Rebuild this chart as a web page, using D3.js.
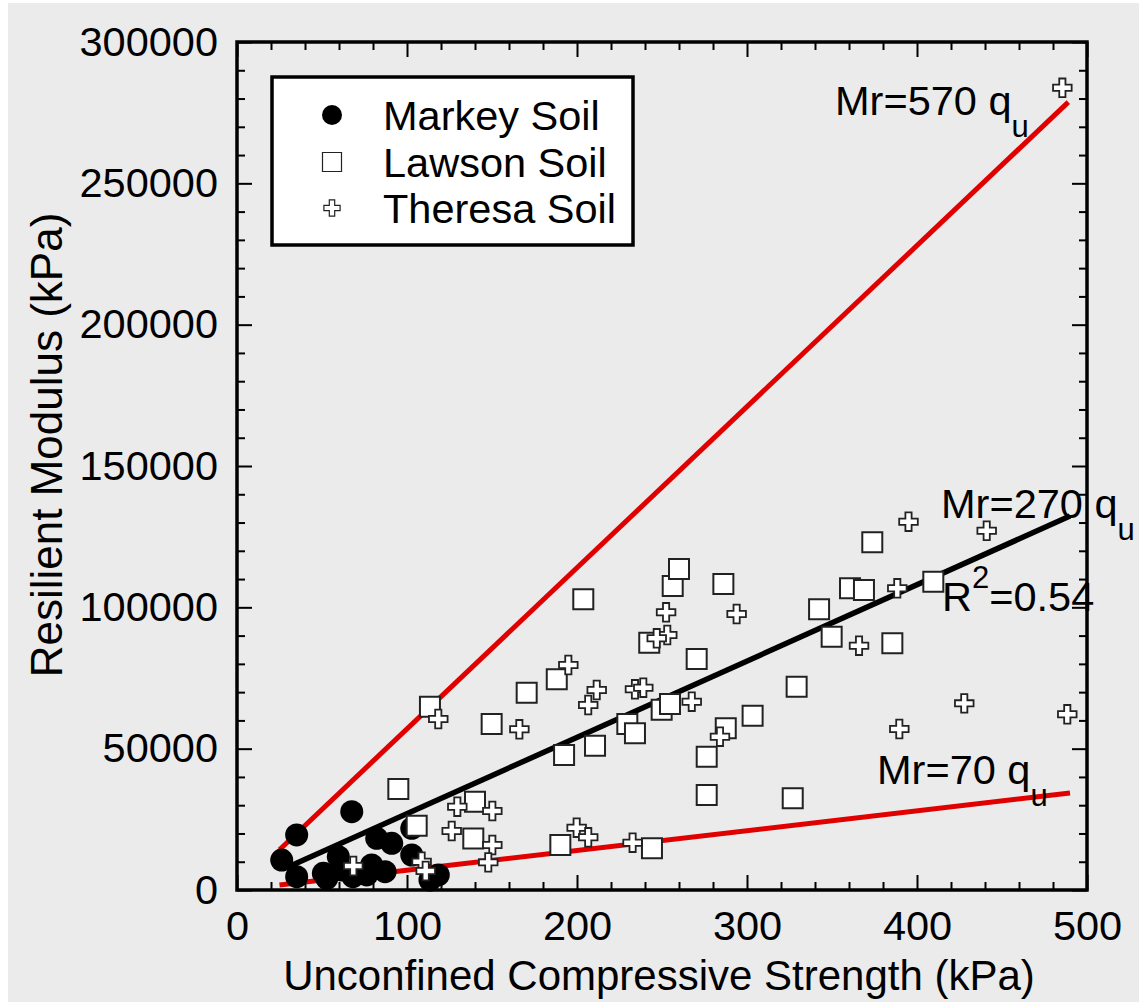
<!DOCTYPE html>
<html>
<head>
<meta charset="utf-8">
<script src="https://cdn.jsdelivr.net/npm/d3@7"></script>
<style>
  html, body { margin: 0; padding: 0; background: #ffffff; }
  svg { display: block; }
  text { font-family: "Liberation Sans", Arial, Helvetica, sans-serif; fill: #000; }
</style>
</head>
<body>
<svg id="chart" width="1145" height="1006"></svg>
<script>
// ---------------- DATA ----------------
const markeyQu = [26.3, 35.1, 35.1, 67.5, 50.8, 52.8, 59.6, 61.4, 68.2, 79.2, 76.3, 82.2, 91.0, 87.1, 102.8, 102.8, 118.4, 113.5];
const markeyMr = [10600, 19480, 4720, 27700, 5900, 4130, 11790, 7080, 4720, 8850, 5310, 18270, 16510, 6490, 12380, 21810, 5310, 3540];

const lawsonQu = [113.5, 170.4, 188.1, 203.7, 149.8, 94.9, 105.7, 140.0, 139.0, 190.2, 192.4, 210.6, 229.6, 234.1, 249.8, 254.7,
                  242.5, 256.3, 260.0, 244.1, 286.1, 373.7, 360.6, 368.8, 342.4, 349.8, 385.5, 409.6, 270.4, 329.2, 303.3,
                  287.5, 276.3, 276.3, 326.9];
const lawsonMr = [64840, 69800, 74540, 102840, 58730, 35730, 22750, 31240, 18200, 15920, 47760, 51050, 58730, 55430, 63800, 65800,
                  87490, 107550, 113600, 14750, 108250, 123000, 106730, 106130, 99300, 89610, 87270, 109070, 81720, 71920, 61660,
                  57200, 47160, 33610, 32440];

const theresaQu = [118.4, 194.9, 211.6, 206.6, 166.1, 234.1, 239.0, 252.4, 253.1, 246.9, 129.6, 150.2, 126.3, 150.2, 199.8, 206.6,
                   232.7, 147.8, 108.6, 111.0, 68.4, 395.0, 441.0, 388.4, 293.9, 365.9, 267.5, 284.1, 427.8, 389.6, 488.4, 485.5];
const theresaMr = [60490, 79600, 70750, 65450, 56850, 71000, 71570, 98240, 90210, 89040, 29470, 27950, 20870, 15920, 22040, 18640,
                   16730, 9790, 10020, 6720, 8490, 130290, 127100, 106730, 97640, 86420, 66620, 54240, 66040, 56960, 62150, 283800];

// regression / bound lines: Mr = k * qu, drawn over [quStart, quEnd]
const lineNames  = ["upper", "fit", "lower"];
const lineCoef   = [570, 270, 70];
const lineStart  = [25, 30, 25];
const lineEnd    = [489, 490, 490];

const xTickValues = [0, 100, 200, 300, 400, 500];
const yTickValues = [0, 50000, 100000, 150000, 200000, 250000, 300000];
const legendLabels = ["Markey Soil", "Lawson Soil", "Theresa Soil"];

(function () {
// ---------------- LAYOUT ----------------
const svg = d3.select("#chart");
const W = 1145, H = 1006;
const pL = 237, pR = 1087, pT = 42, pB = 890;
const FONT = 41.5;

svg.append("rect").attr("x", 0).attr("y", 0).attr("width", W).attr("height", H).attr("fill", "#ffffff");
svg.append("rect").attr("x", 8).attr("y", 3).attr("width", 1131).attr("height", 999).attr("fill", "#ebebeb");

const x = d3.scaleLinear().domain([0, 500]).range([pL, pR]);
const y = d3.scaleLinear().domain([0, 300000]).range([pB, pT]);

// ---------------- LINES ----------------
const lineGen = d3.line().x(d => x(d[0])).y(d => y(d[1]));
const lineColors = ["#e00000", "#000000", "#e00000"];
const lineWidths = [5, 5.5, 5];
lineNames.forEach((n, i) => {
  const pts = [[lineStart[i], lineCoef[i] * lineStart[i]], [lineEnd[i], lineCoef[i] * lineEnd[i]]];
  svg.append("path").datum(pts).attr("d", lineGen)
     .attr("fill", "none").attr("stroke", lineColors[i]).attr("stroke-width", lineWidths[i]);
});

// ---------------- POINTS ----------------
const circleSym = d3.symbol().type(d3.symbolCircle).size(Math.PI * 11.5 * 11.5);
const squareSym = d3.symbol().type(d3.symbolSquare).size(20 * 20);
const crossSym  = d3.symbol().type(d3.symbolCross).size(5 * 6.2 * 6.2);

svg.append("g").selectAll("path").data(markeyQu.map((q, i) => [q, markeyMr[i]])).join("path")
  .attr("d", circleSym).attr("transform", d => `translate(${x(d[0])},${y(d[1])})`)
  .attr("fill", "#000");

svg.append("g").selectAll("path").data(lawsonQu.map((q, i) => [q, lawsonMr[i]])).join("path")
  .attr("d", squareSym).attr("transform", d => `translate(${x(d[0])},${y(d[1])})`)
  .attr("fill", "#fff").attr("stroke", "#222").attr("stroke-width", 2);

svg.append("g").selectAll("path").data(theresaQu.map((q, i) => [q, theresaMr[i]])).join("path")
  .attr("d", crossSym).attr("transform", d => `translate(${x(d[0])},${y(d[1])})`)
  .attr("fill", "#fff").attr("stroke", "#222").attr("stroke-width", 1.8);

// ---------------- AXES ----------------
function styleAxis(g) {
  g.select(".domain").remove();
  g.selectAll(".tick line").attr("stroke", "#000").attr("stroke-width", 2);
  g.selectAll("text").style("font-size", FONT + "px").attr("fill", "#000")
   .style("font-family", '"Liberation Sans", Arial, sans-serif');
}
const xMinor = d3.range(0, 501, 20).filter(v => v % 100 !== 0);
const yMinor = d3.range(0, 300001, 10000).filter(v => v % 50000 !== 0);

svg.append("g").attr("transform", `translate(0,${pB})`)
  .call(d3.axisBottom(x).tickValues(xTickValues).tickSize(-15).tickPadding(21).tickFormat(d3.format("d")))
  .call(styleAxis);
svg.append("g").attr("transform", `translate(0,${pB})`)
  .call(d3.axisBottom(x).tickValues(xMinor).tickSize(-8).tickFormat("")).call(styleAxis);
svg.append("g").attr("transform", `translate(0,${pT})`)
  .call(d3.axisTop(x).tickValues(xTickValues).tickSize(-15).tickFormat("")).call(styleAxis);
svg.append("g").attr("transform", `translate(0,${pT})`)
  .call(d3.axisTop(x).tickValues(xMinor).tickSize(-8).tickFormat("")).call(styleAxis);
svg.append("g").attr("transform", `translate(${pL},0)`)
  .call(d3.axisLeft(y).tickValues(yTickValues).tickSize(-15).tickPadding(19).tickFormat(d3.format("d")))
  .call(styleAxis);
svg.append("g").attr("transform", `translate(${pL},0)`)
  .call(d3.axisLeft(y).tickValues(yMinor).tickSize(-8).tickFormat("")).call(styleAxis);
svg.append("g").attr("transform", `translate(${pR},0)`)
  .call(d3.axisRight(y).tickValues(yTickValues).tickSize(-15).tickFormat("")).call(styleAxis);
svg.append("g").attr("transform", `translate(${pR},0)`)
  .call(d3.axisRight(y).tickValues(yMinor).tickSize(-8).tickFormat("")).call(styleAxis);

svg.append("rect").attr("x", pL).attr("y", pT).attr("width", pR - pL).attr("height", pB - pT)
  .attr("fill", "none").attr("stroke", "#000").attr("stroke-width", 3.5);

// axis titles
svg.append("text").attr("x", 659).attr("y", 990).attr("text-anchor", "middle")
  .style("font-size", "42px").text("Unconfined Compressive Strength (kPa)");
svg.append("text").attr("transform", "translate(62,445) rotate(-90)").attr("text-anchor", "middle")
  .style("font-size", "44px").text("Resilient Modulus (kPa)");

// ---------------- ANNOTATIONS ----------------
function eqLabel(xp, yp, main) {
  const t = svg.append("text").attr("x", xp).attr("y", yp).style("font-size", FONT + "px");
  t.append("tspan").text(main);
  t.append("tspan").attr("dy", 22).style("font-size", "31px").text("u");
}
eqLabel(835, 115, "Mr=570 q");
eqLabel(941, 518, "Mr=270 q");
eqLabel(877, 784, "Mr=70 q");
const r2 = svg.append("text").attr("x", 942).attr("y", 611).style("font-size", FONT + "px");
r2.append("tspan").text("R");
r2.append("tspan").attr("dy", -23).style("font-size", "31px").text("2");
r2.append("tspan").attr("dy", 23).text("=0.54");

// ---------------- LEGEND ----------------
const lg = svg.append("g");
lg.append("rect").attr("x", 272).attr("y", 77).attr("width", 361).attr("height", 168)
  .attr("fill", "#fff").attr("stroke", "#000").attr("stroke-width", 3.5);
const legSyms = [
  d3.symbol().type(d3.symbolCircle).size(Math.PI * 10 * 10),
  d3.symbol().type(d3.symbolSquare).size(19 * 19),
  d3.symbol().type(d3.symbolCross).size(5 * 5.4 * 5.4)
];
const legFill = ["#000", "#fff", "#fff"];
const legStroke = ["none", "#222", "#222"];
const legY = [115, 162, 208];
legendLabels.forEach((lab, i) => {
  lg.append("path").attr("d", legSyms[i]).attr("transform", `translate(332,${legY[i]})`)
    .attr("fill", legFill[i]).attr("stroke", legStroke[i]).attr("stroke-width", 1.2);
  lg.append("text").attr("x", 383).attr("y", legY[i] + 15).style("font-size", FONT + "px").text(lab);
});
})();
</script>
</body>
</html>
